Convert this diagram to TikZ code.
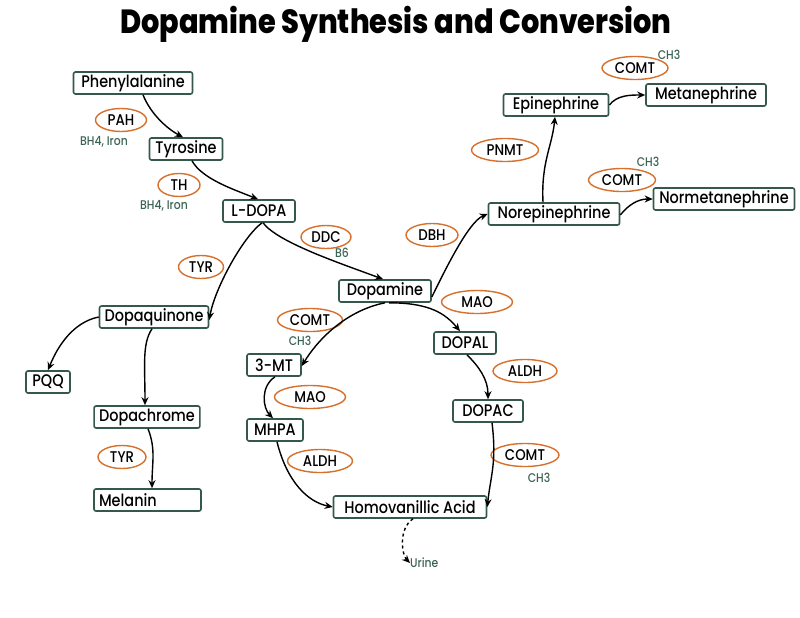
\documentclass[tikz,border=0pt]{standalone}
\usepackage{fontspec}
\setmainfont{Poppins}[UprightFont={* Medium},BoldFont={* ExtraBold},FakeStretch=0.86]
\usetikzlibrary{shapes.geometric,arrows.meta}
\definecolor{boxg}{RGB}{52,88,74}
\definecolor{enzo}{RGB}{214,112,44}
\definecolor{cofg}{RGB}{60,100,85}
\begin{document}
\begin{tikzpicture}[x=1pt,y=-1pt,
 mol/.style={draw=boxg, line width=1.6pt, rounded corners=2pt, fill=white, inner xsep=5pt, inner ysep=0pt, minimum height=22pt, font=\fontsize{16.8}{18}\selectfont, text=black},
 enz/.style={ellipse, draw=enzo, line width=1.4pt, inner sep=0pt, minimum height=23pt, font=\fontsize{15.5}{17}\selectfont},
 cof/.style={text=cofg, font=\fontsize{12.6}{14}\selectfont, inner sep=0pt},
 arr/.style={-{Stealth[length=8pt,width=7pt]}, line width=1.4pt, black},
]
\useasboundingbox[fill=white] (0,0) rectangle (800,618);
\node[font=\fontsize{33.5}{38}\selectfont\bfseries, inner sep=0pt] (title) at (396,24) {Dopamine Synthesis and Conversion};

% molecules
\node[mol, minimum width=119] (phe) at (133,83) {Phenylalanine};
\node[mol, minimum width=73] (tyr) at (186,149) {Tyrosine};
\node[mol, minimum width=72] (ldopa) at (259,211) {L-DOPA};
\node[mol, minimum width=92] (da) at (385,291) {Dopamine};
\node[mol, minimum width=106] (dq) at (154,317) {Dopaquinone};
\node[mol, minimum width=54] (mt) at (274,365) {3-MT};
\node[mol, minimum width=44] (pqq) at (48,382) {PQQ};
\node[mol, minimum width=104] (dc) at (147,417) {Dopachrome};
\node[mol, text width=97pt, align=left] (mel) at (147.5,500) {Melanin};
\node[mol, minimum width=105] (epi) at (556,105) {Epinephrine};
\node[mol, minimum width=120] (meta) at (706,95) {Metanephrine};
\node[mol, minimum width=131] (ne) at (554,214) {Norepinephrine};
\node[mol, minimum width=141] (nmeta) at (724,199) {Normetanephrine};
\node[mol, minimum width=62] (dopal) at (465,343) {DOPAL};
\node[mol, minimum width=70] (dopac) at (488,411) {DOPAC};
\node[mol, minimum width=56] (mhpa) at (275,430) {MHPA};
\node[mol, minimum width=153] (hva) at (410,507) {Homovanillic Acid};
\node[cof, anchor=west] (urine) at (410,563) {Urine};

% enzymes
\node[enz, minimum width=51] (pah) at (121,120) {PAH};
\node[cof] (pahc) at (104,142) {BH4, Iron};
\node[enz, minimum width=42] (th) at (179,185) {TH};
\node[cof] (thc) at (164,206) {BH4, Iron};
\node[enz, minimum width=45] (tyr1) at (201,267) {TYR};
\node[enz, minimum width=50] (ddc) at (326,237) {DDC};
\node[cof] (ddcc) at (342,253) {B6};
\node[enz, minimum width=52] (dbh) at (432,235) {DBH};
\node[enz, minimum width=65] (comt1) at (310,320) {COMT};
\node[cof] (comt1c) at (300,341) {CH3};
\node[enz, minimum width=71] (mao1) at (477,302) {MAO};
\node[enz, minimum width=64] (aldh1) at (525,371) {ALDH};
\node[enz, minimum width=71] (mao2) at (310,397) {MAO};
\node[enz, minimum width=65] (aldh2) at (320,461) {ALDH};
\node[enz, minimum width=68] (comt2) at (525,455) {COMT};
\node[cof] (comt2c) at (539,478) {CH3};
\node[enz, minimum width=48] (tyr2) at (122,457) {TYR};
\node[enz, minimum width=67] (pnmt) at (505,150) {PNMT};
\node[enz, minimum width=66] (comt3) at (635,68) {COMT};
\node[cof] (comt3c) at (669,55) {CH3};
\node[enz, minimum width=67] (comt4) at (622,180) {COMT};
\node[cof] (comt4c) at (648,162) {CH3};

% connectors
\draw[arr] ([xshift=10pt]phe.south) .. controls +(8,20) and +(-15,-8) .. ([xshift=-3pt]tyr.north);
\draw[arr] ([xshift=6pt]tyr.south) .. controls +(10,18) and +(-25,-10) .. ([xshift=-1pt]ldopa.north);
\draw[arr] ([xshift=3pt]ldopa.south) .. controls +(-20,15) and +(5,-30) .. ([yshift=-3pt]dq.east);
\draw[arr] ([xshift=4pt]ldopa.south) .. controls +(15,20) and +(-40,-15) .. ([xshift=-2pt]da.north);
\draw[arr] ([yshift=-6pt]da.east) .. controls +(10,-20) and +(-20,8) .. (ne.west);
\draw[arr] ([xshift=-11pt]ne.north) .. controls +(-2,-40) and +(-3,30) .. ([xshift=-1pt]epi.south);
\draw[arr] (epi.east) .. controls +(8,-10) and +(-15,0) .. (meta.west);
\draw[arr] ([yshift=-1pt]ne.east) .. controls +(8,-10) and +(-15,0) .. (nmeta.west);
\draw[arr] (da.south) .. controls +(-40,8) and +(15,-25) .. ([yshift=-1pt]mt.east);
\draw[arr] ([xshift=4pt]da.south) .. controls +(40,0) and +(-15,-18) .. ([xshift=-5pt]dopal.north);
\draw[arr] ([xshift=2pt]dopal.south) .. controls +(12,12) and +(0,-20) .. (dopac.north);
\draw[arr] ([xshift=4pt]dopac.south) .. controls +(5,40) and +(3,-30) .. (hva.east);
\draw[arr] ([xshift=1pt]mt.south) .. controls +(-15,10) and +(-10,-10) .. ([xshift=-2pt]mhpa.north);
\draw[arr] ([xshift=2pt]mhpa.south) .. controls +(10,40) and +(-25,-5) .. (hva.west);
\draw[arr, dashed] ([xshift=3pt]hva.south) .. controls +(-15,10) and +(-8,-8) .. (urine.west);
\draw[arr] (dq.west) .. controls +(-25,5) and +(10,-25) .. (pqq.north);
\draw[arr] ([xshift=-2pt]dq.south) .. controls +(-10,15) and +(0,-40) .. ([xshift=-2pt]dc.north);
\draw[arr] ([xshift=1pt]dc.south) .. controls +(8,20) and +(0,-25) .. ([xshift=4.5pt]mel.north);
\end{tikzpicture}
\end{document}
